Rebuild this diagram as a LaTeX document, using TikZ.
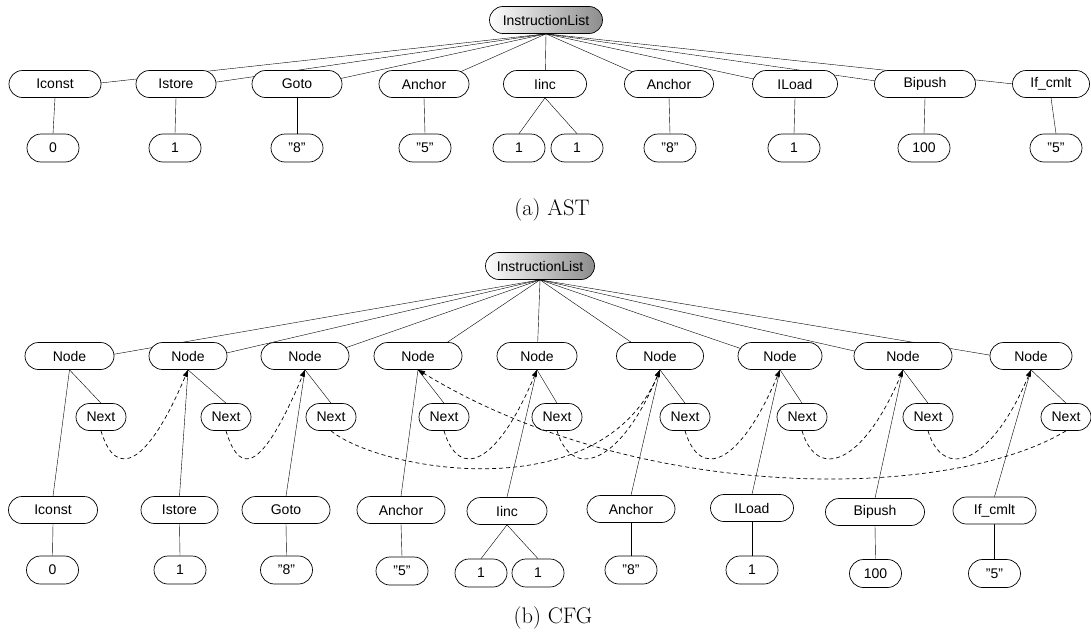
\documentclass[tikz,border=0pt]{standalone}
\usepackage{fontspec}
\setsansfont{Liberation Sans}
\usepackage{tikz}
\usetikzlibrary{arrows.meta, backgrounds}

\newcommand{\boxfont}{\sffamily\fontsize{14}{16}\selectfont}

\begin{document}
\begin{tikzpicture}[x=1pt, y=-1pt, >={Triangle[length=7pt,width=5pt]},
  box/.style={draw, line width=0.7pt, fill=white, rounded corners=13.5pt,
    minimum height=27pt, inner sep=0pt, font=\boxfont},
  wd/.style={minimum width=#1pt},
  root/.style={box, left color=white, right color=black!45},
  leaf/.style={box, minimum width=52pt, minimum height=28pt, rounded corners=14pt},
  nxt/.style={box, minimum width=50pt},
  capt/.style={font=\fontsize{22.5}{26}\selectfont},
  tree/.style={line width=0.65pt},
  jump/.style={->, line width=0.7pt, dash pattern=on 4pt off 3pt}]

\useasboundingbox (0,0) rectangle (1091,637);

% (a) the AST
  \node[root, wd=113] (ilA) at (546,20) {InstructionList};

  \node[box, wd=92]  (a1) at (55,84)   {Iconst};
  \node[box, wd=80]  (a2) at (176,84)  {Istore};
  \node[box, wd=90]  (a3) at (297,84)  {Goto};
  \node[box, wd=90]  (a4) at (424,84)  {Anchor};
  \node[box, wd=83]  (a5) at (545,84)  {Iinc};
  \node[box, wd=89]  (a6) at (669,84)  {Anchor};
  \node[box, wd=85]  (a7) at (795,84)  {ILoad};
  \node[box, wd=101] (a8) at (925,84)  {Bipush};
  \node[box, wd=77]  (a9) at (1051,84) {If\_cmlt};

  \node[leaf] (av1)  at (53,148)   {0};
  \node[leaf] (av2)  at (175,148)  {1};
  \node[leaf] (av3)  at (297,148)  {"8"};
  \node[leaf] (av4)  at (425,148)  {"5"};
  \node[leaf] (av5)  at (519,148)  {1};
  \node[leaf] (av5b) at (577,148)  {1};
  \node[leaf] (av6)  at (670,148)  {"8"};
  \node[leaf] (av7)  at (794,148)  {1};
  \node[leaf] (av8)  at (924,148)  {100};
  \node[leaf] (av9)  at (1056,148) {"5"};

  \node[capt] (capA) at (552,210) {(a) AST};

% (b) the CFG
  \node[root, wd=109] (ilB) at (540,266) {InstructionList};

  \node[box, wd=89] (nd1) at (69.5,356) {Node};
  \node[box, wd=78] (nd2) at (188,356)  {Node};
  \node[box, wd=88] (nd3) at (305,356)  {Node};
  \node[box, wd=88] (nd4) at (418,356)  {Node};
  \node[box, wd=80] (nd5) at (537,356)  {Node};
  \node[box, wd=87] (nd6) at (660,356)  {Node};
  \node[box, wd=84] (nd7) at (780,356)  {Node};
  \node[box, wd=98] (nd8) at (903,356)  {Node};
  \node[box, wd=82] (nd9) at (1031,356) {Node};

  \node[nxt] (nx1) at (101,417)  {Next};
  \node[nxt] (nx2) at (226,417)  {Next};
  \node[nxt] (nx3) at (331,417)  {Next};
  \node[nxt] (nx4) at (444,417)  {Next};
  \node[nxt] (nx5) at (557,417)  {Next};
  \node[nxt] (nx6) at (685,417)  {Next};
  \node[nxt] (nx7) at (802,417)  {Next};
  \node[nxt] (nx8) at (928,417)  {Next};
  \node[nxt] (nx9) at (1066,417) {Next};

  \node[box, wd=89] (ci1) at (53,510)      {Iconst};
  \node[box, wd=77] (ci2) at (179.5,510)   {Istore};
  \node[box, wd=88] (ci3) at (286,510)     {Goto};
  \node[box, wd=88] (ci4) at (401,510)     {Anchor};
  \node[box, wd=80] (ci5) at (507,511)     {Iinc};
  \node[box, wd=88] (ci6) at (631,509)     {Anchor};
  \node[box, wd=83] (ci7) at (752,508)     {ILoad};
  \node[box, wd=99] (ci8) at (875,512)     {Bipush};
  \node[box, wd=83] (ci9) at (994.5,510.5) {If\_cmlt};

  \node[leaf] (cv1)  at (52.5,570)    {0};
  \node[leaf] (cv2)  at (180,570)     {1};
  \node[leaf] (cv3)  at (286.5,570)   {"8"};
  \node[leaf] (cv4)  at (402,571)     {"5"};
  \node[leaf] (cv5)  at (481,573)     {1};
  \node[leaf] (cv5b) at (538,573)     {1};
  \node[leaf] (cv6)  at (631,570)     {"8"};
  \node[leaf] (cv7)  at (752,570)     {1};
  \node[leaf] (cv8)  at (875.5,573.5) {100};
  \node[leaf] (cv9)  at (994.5,573.5) {"5"};

  \node[capt] (capB) at (553,618) {(b) CFG};

% the tree links, behind the boxes
\begin{scope}[on background layer, tree]
  \foreach \i in {1,...,9}
    \draw (ilA.south) -- ([yshift=-4pt]a\i.center);
  \foreach \i in {1,2,3,4,6,7,8,9}
    \draw (a\i.south) -- (av\i.north);
  \path (a5.south) edge (av5.north)
                   edge (av5b.north);

  \foreach \i in {1,...,9} {
    \draw (ilB.south) -- ([yshift=-6pt]nd\i.center);
    \draw (nd\i.south) -- (nx\i.north);
    \draw (nd\i.south) -- (ci\i.north);
  }
  \foreach \i in {1,2,3,4,6,7,8,9}
    \draw (ci\i.south) -- (cv\i.north);
  \path (ci5.south) edge (cv5.north)
                    edge (cv5b.north);
\end{scope}

% the next links
  \foreach \i/\j in {1/2,2/3,4/5,5/6,6/7,7/8,8/9}
    \draw[jump] (nx\i.south) .. controls +(15,50) and +(-40,95) .. (nd\j.south);
  \draw[jump] (nx3.south) .. controls +(49,40) and +(-60,140) .. (nd6.south);
  \draw[jump] (nx9.south) .. controls +(-116,70) and +(222,135) .. (nd4.south);

\end{tikzpicture}
\end{document}
